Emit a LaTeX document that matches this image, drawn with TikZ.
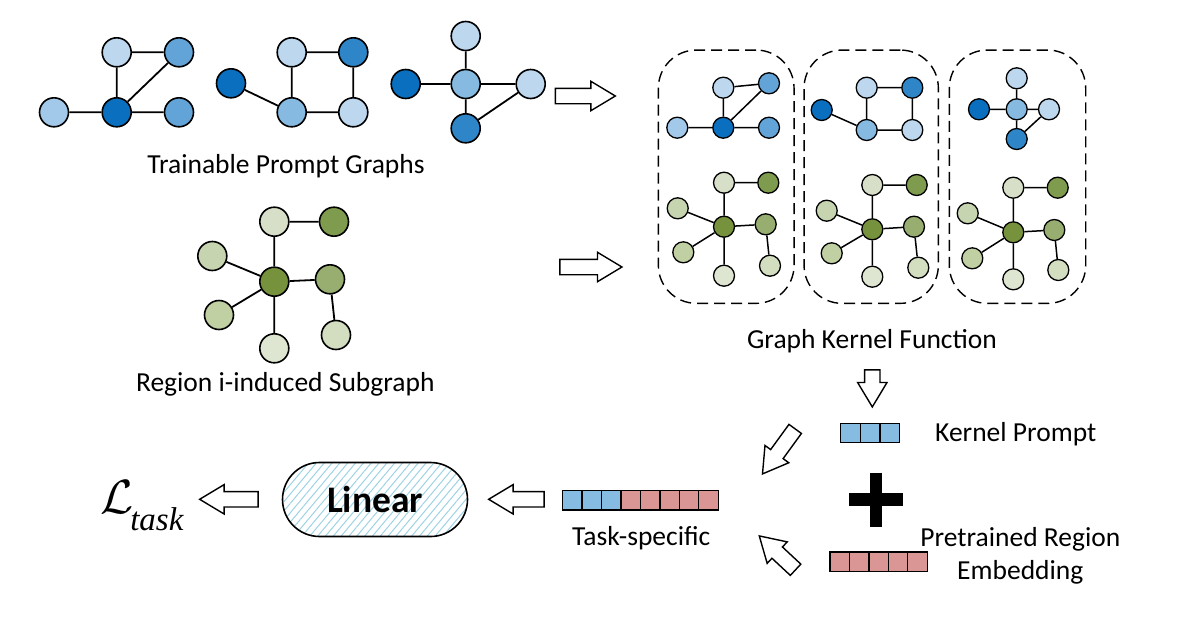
\documentclass[tikz,border=0pt]{standalone}
\usepackage{fontspec}
\setmainfont{Carlito}
\newfontfamily\timesit{Liberation Serif}[ItalicFont=*-Italic]
\usetikzlibrary{shapes.arrows,patterns.meta}
\definecolor{b1}{HTML}{BDD7EE}
\definecolor{b2}{HTML}{A2C9E9}
\definecolor{b3}{HTML}{86BAE0}
\definecolor{b4}{HTML}{62A4D7}
\definecolor{b5}{HTML}{2E86C8}
\definecolor{b6}{HTML}{0B6FBF}
\definecolor{g0}{HTML}{DEE6D2}
\definecolor{g1}{HTML}{D7DFC8}
\definecolor{g2}{HTML}{D3DDC0}
\definecolor{g3}{HTML}{C7D4B0}
\definecolor{g4}{HTML}{C1D0A3}
\definecolor{g6}{HTML}{98AE70}
\definecolor{g7}{HTML}{7F9B4E}
\definecolor{g8}{HTML}{76923C}
\definecolor{cellblue}{HTML}{86BCE2}
\definecolor{cellpink}{HTML}{D99694}
\definecolor{hatch}{HTML}{9DD2E4}
\begin{document}
\begin{tikzpicture}[x=1pt,y=-1pt,
  gn/.style={circle,draw=black,line width=1.6pt,minimum size=29pt,inner sep=0pt},
  sn/.style={circle,draw=black,line width=1.3pt,minimum size=21pt,inner sep=0pt},
  ge/.style={line width=1.8pt},
  se/.style={line width=1.5pt},
  blockarrow/.style={single arrow,draw=black,fill=white,line width=1.4pt,
    inner xsep=0pt,inner ysep=7pt,single arrow head extend=7pt,
    single arrow tip angle=62,anchor=tip},
  lbl/.style={font=\fontsize{27.5}{34}\selectfont,inner sep=0pt},
  cell/.style={draw=black,line width=1.3pt,minimum width=19.5pt,minimum height=19.5pt,inner sep=0pt},
  kbox/.style={draw=black,line width=1.4pt,dash pattern=on 11pt off 6pt,rounded corners=38pt,inner sep=0pt},
]
\useasboundingbox (0,0) rectangle (1186,616);

% ---------- kernel boxes ----------
\node[kbox,minimum width=135.7pt,minimum height=253.3pt] (K1) at (726.2,176.7) {};
\node[kbox,minimum width=134.3pt,minimum height=253.3pt] (K2) at (871.2,176.7) {};
\node[kbox,minimum width=136.4pt,minimum height=253.3pt] (K3) at (1017.5,176.7) {};

% ---------- trainable prompt graphs ----------
\node[gn,fill=b1] (A) at (116.7,52.3) {};
\node[gn,fill=b4] (B) at (179,52.3) {};
\node[gn,fill=b2] (C) at (54,112.3) {};
\node[gn,fill=b6] (D) at (116.7,112.3) {};
\node[gn,fill=b4] (E) at (179,112.3) {};
\draw[ge] (A)--(B) (A)--(D) (D)--(B) (C)--(D) (D)--(E);

\node[gn,fill=b6] (F) at (231,83.3) {};
\node[gn,fill=b1] (G) at (291.7,52.3) {};
\node[gn,fill=b5] (H) at (353.3,52.3) {};
\node[gn,fill=b3] (I) at (291.7,112.3) {};
\node[gn,fill=b1] (J) at (353.3,112.3) {};
\draw[ge] (F)--(I) (G)--(H) (G)--(I) (H)--(J) (I)--(J);

\node[gn,fill=b1] (K) at (465.7,36) {};
\node[gn,fill=b6] (L) at (405.7,84) {};
\node[gn,fill=b3] (M) at (465.7,84) {};
\node[gn,fill=b1] (N) at (530.7,84) {};
\node[gn,fill=b5] (O) at (465.7,128.3) {};
\draw[ge] (K)--(M) (L)--(M) (M)--(N) (M)--(O) (O)--(N);

\node[lbl,anchor=base] (tpg) at (286,173.3) {Trainable Prompt Graphs};

% ---------- region subgraph ----------
\node[gn,fill=g1] (P) at (274.3,221.7) {};
\node[gn,fill=g7] (Q) at (334,221.7) {};
\node[gn,fill=g3] (R) at (212.3,256) {};
\node[gn,fill=g8] (S) at (274.3,281.7) {};
\node[gn,fill=g6] (T) at (330,279.3) {};
\node[gn,fill=g4] (U) at (219,315) {};
\node[gn,fill=g0] (V) at (274.3,348.3) {};
\node[gn,fill=g2] (W) at (336,335) {};
\draw[ge] (P)--(Q) (P)--(S) (R)--(S) (U)--(S) (V)--(S) (S)--(T) (T)--(W);

\node[lbl,anchor=base] (ris) at (285.3,391.7) {Region i-induced Subgraph};

% ---------- box 1 ----------
\node[sn,fill=b1] (a1) at (723.3,87.7) {};
\node[sn,fill=b4] (b1n) at (769,83.3) {};
\node[sn,fill=b2] (c1) at (677.3,127.7) {};
\node[sn,fill=b6] (d1) at (723.3,127.7) {};
\node[sn,fill=b4] (e1) at (769,127.7) {};
\draw[se] (a1)--(b1n) (a1)--(d1) (d1)--(b1n) (c1)--(d1) (d1)--(e1);

\node[sn,fill=g1] (p1) at (724,182.7) {};
\node[sn,fill=g7] (q1) at (768.3,182.7) {};
\node[sn,fill=g3] (r1) at (677.7,208.3) {};
\node[sn,fill=g8] (s1) at (724,226.7) {};
\node[sn,fill=g6] (t1) at (765.7,224.3) {};
\node[sn,fill=g4] (u1) at (683.3,252.3) {};
\node[sn,fill=g0] (v1) at (724,275.7) {};
\node[sn,fill=g2] (w1) at (770,265.7) {};
\draw[se] (p1)--(q1) (p1)--(s1) (r1)--(s1) (u1)--(s1) (v1)--(s1) (s1)--(t1) (t1)--(w1);

% ---------- box 2 ----------
\node[sn,fill=b6] (f2) at (821.7,110) {};
\node[sn,fill=b1] (g2n) at (866.7,87.7) {};
\node[sn,fill=b5] (h2) at (912.3,87.7) {};
\node[sn,fill=b3] (i2) at (866.7,130) {};
\node[sn,fill=b1] (j2) at (912.3,130) {};
\draw[se] (f2)--(i2) (g2n)--(h2) (g2n)--(i2) (h2)--(j2) (i2)--(j2);

\node[sn,fill=g1] (p2) at (872.3,185) {};
\node[sn,fill=g7] (q2) at (916.7,185) {};
\node[sn,fill=g3] (r2) at (826.7,210.7) {};
\node[sn,fill=g8] (s2) at (872.3,229.3) {};
\node[sn,fill=g6] (t2) at (914,226.7) {};
\node[sn,fill=g4] (u2) at (831.7,253.3) {};
\node[sn,fill=g0] (v2) at (872.3,276.7) {};
\node[sn,fill=g2] (w2) at (918.3,267.7) {};
\draw[se] (p2)--(q2) (p2)--(s2) (r2)--(s2) (u2)--(s2) (v2)--(s2) (s2)--(t2) (t2)--(w2);

% ---------- box 3 ----------
\node[sn,fill=b1] (k3) at (1016.7,78.3) {};
\node[sn,fill=b6] (l3) at (979,109.3) {};
\node[sn,fill=b3] (m3) at (1016.7,109.3) {};
\node[sn,fill=b1] (n3) at (1049,109.3) {};
\node[sn,fill=b5] (o3) at (1016.7,139) {};
\draw[se] (k3)--(m3) (l3)--(m3) (m3)--(n3) (m3)--(o3) (o3)--(n3);

\node[sn,fill=g1] (p3) at (1013.3,187.7) {};
\node[sn,fill=g7] (q3) at (1057.7,187.7) {};
\node[sn,fill=g3] (r3) at (967.7,213.3) {};
\node[sn,fill=g8] (s3) at (1013.3,232.3) {};
\node[sn,fill=g6] (t3) at (1054.3,230) {};
\node[sn,fill=g4] (u3) at (972.3,258.3) {};
\node[sn,fill=g0] (v3) at (1013.3,279.3) {};
\node[sn,fill=g2] (w3) at (1058.3,270) {};
\draw[se] (p3)--(q3) (p3)--(s3) (r3)--(s3) (u3)--(s3) (v3)--(s3) (s3)--(t3) (t3)--(w3);

\node[lbl,anchor=base] (gkf) at (872,348.3) {Graph Kernel Function};

% ---------- block arrows (placed by their tips) ----------
\node[blockarrow,minimum height=60pt] (ar1) at (616.7,96) {};
\node[blockarrow,minimum height=62pt] (ar2) at (623.3,267) {};
\node[blockarrow,minimum height=37pt,rotate=-90] (ar3) at (872.3,408.3) {};
\node[blockarrow,minimum height=55.6pt,rotate=-126] (ar4) at (761.7,475) {};
\node[blockarrow,minimum height=49.6pt,rotate=137] (ar5) at (758.3,535) {};
\node[blockarrow,minimum height=55.4pt,rotate=180] (ar6) at (487.3,499.3) {};
\node[blockarrow,minimum height=58.4pt,rotate=180] (ar7) at (198.3,499.3) {};

% ---------- vectors ----------
\foreach \k in {1,2,3}
  \node[cell,fill=cellblue] (kp\k) at ({850.5+19.55*(\k-1)},433) {};
\node[lbl,anchor=base west] (kpt) at (935,441.7) {Kernel Prompt};

\foreach \k in {1,2,3}
  \node[cell,fill=cellblue] (ts\k) at ({572.4+19.45*(\k-1)},500.3) {};
\foreach \k in {4,...,8}
  \node[cell,fill=cellpink] (ts\k) at ({572.4+19.45*(\k-1)},500.3) {};
\node[lbl,anchor=base] (tst) at (641.2,545) {Task-specific};

\foreach \k in {1,...,5}
  \node[cell,fill=cellpink] (pe\k) at ({839.7+19.46*(\k-1)},561.7) {};
\node[lbl,anchor=base,align=center,font=\fontsize{27.5}{32.3}\selectfont] (pet) at (1020.3,579) {Pretrained Region\\Embedding};

% plus sign
\draw[line width=12.7pt] (849,499.7) -- (903.3,499.7);
\draw[line width=12.7pt] (876,472.7) -- (876,526.7);

% ---------- linear & loss ----------
\node[draw=black,line width=1.6pt,rounded corners=37pt,minimum width=185pt,minimum height=74pt,
  pattern={Lines[angle=50,distance=6pt,line width=1pt]},pattern color=hatch,
  font=\fontsize{37.5}{40}\selectfont\bfseries] (lin) at (375,499.5) {Linear};
\node[anchor=base west,inner sep=0pt] (loss) at (100,513)
  {\scalebox{1.93}{\fontsize{24.88}{28}\selectfont$\mathcal{L}$}\hspace{-3pt}\raisebox{-17pt}{\fontsize{33}{36}\selectfont\timesit\itshape task}};
\end{tikzpicture}
\end{document}
